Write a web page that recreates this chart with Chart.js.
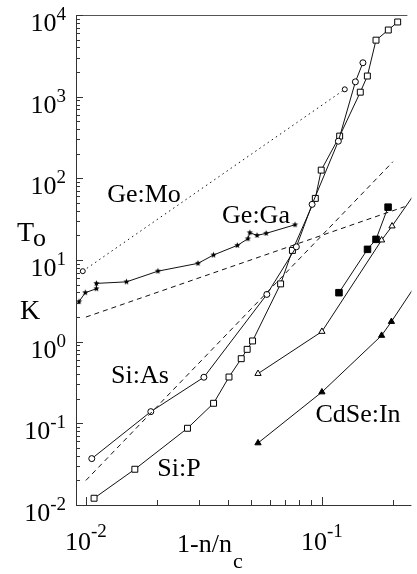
<!DOCTYPE html>
<html><head><meta charset="utf-8">
<script src="https://cdn.jsdelivr.net/npm/chart.js@4.4.1/dist/chart.umd.min.js"></script>
<style>html,body{margin:0;padding:0;background:#fff;overflow:hidden}canvas{display:block}</style>
</head><body>
<canvas id="c" width="417" height="574"></canvas>
<script>
// ---- data ----
const siAsX = [0.01059, 0.01884, 0.03162, 0.05843, 0.07792, 0.09085, 0.1174, 0.1386, 0.1492];
const siAsY = [0.037, 0.139, 0.367, 3.79, 14.5, 48, 285, 1520, 2600];

const siPX = [0.01083, 0.01612, 0.02694, 0.03475, 0.04039, 0.04552, 0.04823, 0.05084, 0.06683, 0.07499, 0.09377, 0.09933, 0.1189, 0.1454, 0.1558, 0.1695, 0.1911, 0.2094];
const siPY = [0.0121, 0.0274, 0.087, 0.176, 0.369, 0.619, 0.805, 1.02, 5.1, 13.1, 56.8, 126, 329, 1135, 1790, 4920, 6550, 8210];

const geGaX = [0.00935, 0.00994, 0.01108, 0.01108, 0.01486, 0.02019, 0.02985, 0.03471, 0.04383, 0.04857, 0.04951, 0.05309, 0.05803, 0.07694];
const geGaY = [3.09, 3.98, 4.45, 5.17, 5.4, 7.3, 9.1, 11.5, 15.1, 18.2, 21.6, 20.0, 21.2, 27.0];

const fillSqX = [0.1181, 0.1560, 0.1695, 0.1907];
const fillSqY = [3.98, 13.5, 17.9, 44.4];

const openTriX = [0.05361, 0.1, 0.179, 0.1982, 0.26];
const openTriY = [0.406, 1.33, 17.5, 26.0, 80];

const cdSeX = [0.05361, 0.1, 0.179, 0.197, 0.26];
const cdSeY = [0.0574, 0.2415, 1.19, 1.76, 5.9];

const geMoFitX = [0.0097, 0.125];
const geMoFitY = [7.3, 1230];

const geGaFitX = [0.01, 0.224];
const geGaFitY = [2.0, 45];

const siFitX = [0.01, 0.2];
const siFitY = [0.02, 160];

const yTickValues = [1e-2, 1e-1, 1e0, 1e1, 1e2, 1e3, 1e4];
const yTickExps = ['-2', '-1', '0', '1', '2', '3', '4'];
const xTickValues = [0.01, 0.1];
const xTickExps = ['-2', '-1'];
const xMinorTicks = [0.02, 0.03, 0.04, 0.05, 0.06, 0.07, 0.08, 0.09, 0.2];

const seriesLabels = [
  {text: 'Ge:Mo', cx: 144, base: 202},
  {text: 'Ge:Ga', cx: 256, base: 223},
  {text: 'Si:As', cx: 140, base: 383},
  {text: 'Si:P', cx: 179, base: 476},
  {text: 'CdSe:In', cx: 358, base: 422}
];

// ---- helpers ----
const pts = (xs, ys) => xs.map((x, i) => ({x: x, y: ys[i]}));
function makeStar(r) {
  const s = Math.ceil(r * 2 + 2);
  const c = document.createElement('canvas');
  c.width = s; c.height = s;
  const g = c.getContext('2d');
  g.fillStyle = '#000';
  g.beginPath();
  for (let i = 0; i < 10; i++) {
    const a = -Math.PI / 2 + i * Math.PI / 5;
    const rr = i % 2 ? r * 0.45 : r;
    g.lineTo(s / 2 + rr * Math.cos(a), s / 2 + rr * Math.sin(a));
  }
  g.closePath(); g.fill();
  return c;
}
const star = makeStar(3.2);
const LC = '#111';
const SERIF = '"Liberation Serif", "Times New Roman", serif';

const base = {showLine: true, borderColor: LC, borderWidth: 1, pointBorderColor: '#000', pointBorderWidth: 1, tension: 0};

const datasets = [
  Object.assign({}, base, {label: 'Ge:Mo fit', data: pts(geMoFitX, geMoFitY), borderDash: [1.5, 3.5], pointStyle: 'circle', pointRadius: 2.5, pointBackgroundColor: '#fff'}),
  Object.assign({}, base, {label: 'Ge:Ga fit', data: pts(geGaFitX, geGaFitY), borderDash: [5, 4], pointRadius: 0}),
  Object.assign({}, base, {label: 'Si fit', data: pts(siFitX, siFitY), borderDash: [5, 4], pointRadius: 0}),
  Object.assign({}, base, {label: 'Ge:Ga', data: pts(geGaX, geGaY), pointStyle: star, pointRadius: 3}),
  Object.assign({}, base, {label: 'Si:As', data: pts(siAsX, siAsY), pointStyle: 'circle', pointRadius: 3, pointBackgroundColor: '#fff'}),
  Object.assign({}, base, {label: 'Si:P', data: pts(siPX, siPY), pointStyle: 'rect', pointRadius: 4.2, pointBackgroundColor: '#fff'}),
  Object.assign({}, base, {label: 'filled squares', data: pts(fillSqX, fillSqY), pointStyle: 'rect', pointRadius: 4.6, pointBackgroundColor: '#000'}),
  Object.assign({}, base, {label: 'open triangles', data: pts(openTriX, openTriY), pointStyle: 'triangle', pointRadius: 3.6, pointBackgroundColor: '#fff'}),
  Object.assign({}, base, {label: 'CdSe:In', data: pts(cdSeX, cdSeY), pointStyle: 'triangle', pointRadius: 3.6, pointBackgroundColor: '#000'})
];

const axesPlugin = {
  id: 'axesPlugin',
  afterDraw(chart) {
    const ctx = chart.ctx, ca = chart.chartArea;
    const xs = chart.scales.x, ys = chart.scales.y;
    ctx.save();
    ctx.strokeStyle = '#333';
    ctx.lineWidth = 1;
    ctx.beginPath();
    ctx.moveTo(ca.left + 0.5, ca.top); ctx.lineTo(ca.left + 0.5, ca.bottom);
    ctx.moveTo(ca.left, ca.bottom + 0.5); ctx.lineTo(ca.right, ca.bottom + 0.5);
    ctx.stroke();
    ctx.strokeStyle = '#555';
    ctx.beginPath();
    ctx.moveTo(ca.left, ca.top + 0.5); ctx.lineTo(ca.right - 4, ca.top + 0.5);
    ctx.stroke();
    // y ticks
    ctx.strokeStyle = '#333';
    ctx.beginPath();
    yTickValues.forEach((v, i) => {
      const py = Math.round(ys.getPixelForValue(v)) + 0.5;
      ctx.moveTo(ca.left, py); ctx.lineTo(ca.left + 7, py);
      if (i < yTickValues.length - 1) {
        for (let m = 2; m <= 9; m++) {
          const q = Math.round(ys.getPixelForValue(v * m)) + 0.5;
          ctx.moveTo(ca.left, q); ctx.lineTo(ca.left + 4, q);
        }
      }
    });
    // x ticks
    xTickValues.forEach(v => {
      const px = Math.round(xs.getPixelForValue(v)) + 0.5;
      ctx.moveTo(px, ca.bottom); ctx.lineTo(px, ca.bottom - 8);
    });
    xMinorTicks.forEach(v => {
      const px = Math.round(xs.getPixelForValue(v)) + 0.5;
      ctx.moveTo(px, ca.bottom); ctx.lineTo(px, ca.bottom - 5);
    });
    ctx.stroke();

    ctx.fillStyle = '#000';
    ctx.textBaseline = 'alphabetic';
    const bigF = '26px ' + SERIF, expF = '19px ' + SERIF;
    // y tick labels
    yTickValues.forEach((v, i) => {
      const py = ys.getPixelForValue(v);
      ctx.font = expF;
      const ew = ctx.measureText(yTickExps[i]).width;
      ctx.font = bigF;
      const bw = ctx.measureText('10').width;
      const right = 66;
      ctx.textAlign = 'left';
      ctx.fillText('10', right - ew - bw, py + 16);
      ctx.font = expF;
      ctx.fillText(yTickExps[i], right - ew, py + 5);
    });
    // x tick labels
    xTickValues.forEach((v, i) => {
      const px = xs.getPixelForValue(v);
      ctx.font = expF;
      const ew = ctx.measureText(xTickExps[i]).width;
      ctx.font = bigF;
      const bw = ctx.measureText('10').width;
      const left = px - (bw + ew) / 2;
      ctx.textAlign = 'left';
      ctx.fillText('10', left, 550);
      ctx.font = expF;
      ctx.fillText(xTickExps[i], left + bw, 537);
    });
    // x axis title 1-n/n_c
    ctx.font = bigF;
    ctx.textAlign = 'left';
    ctx.fillText('1-n/n', 177, 552);
    const tw = ctx.measureText('1-n/n').width;
    ctx.font = '22px ' + SERIF;
    ctx.fillText('c', 177 + tw + 1, 568);
    // y axis title T_o / K
    ctx.font = '28px ' + SERIF;
    ctx.fillText('T', 17, 241);
    const tW = ctx.measureText('T').width;
    ctx.font = '26px ' + SERIF;
    ctx.fillText('o', 17 + tW - 1, 245.5);
    ctx.font = '28px ' + SERIF;
    ctx.fillText('K', 20, 318.5);
    // series labels
    ctx.font = '26px ' + SERIF;
    ctx.textAlign = 'center';
    seriesLabels.forEach(l => ctx.fillText(l.text, l.cx, l.base));
    ctx.restore();
  }
};

new Chart(document.getElementById('c'), {
  type: 'scatter',
  data: {datasets: datasets},
  options: {
    responsive: false,
    animation: false,
    devicePixelRatio: 1,
    layout: {padding: {left: 76, top: 15, right: 0, bottom: 69}},
    plugins: {legend: {display: false}, tooltip: {enabled: false}},
    scales: {
      x: {type: 'logarithmic', min: 0.00908, max: 0.2394, display: false},
      y: {type: 'logarithmic', min: 0.01, max: 10000, display: false}
    }
  },
  plugins: [axesPlugin]
});
</script>
</body></html>
